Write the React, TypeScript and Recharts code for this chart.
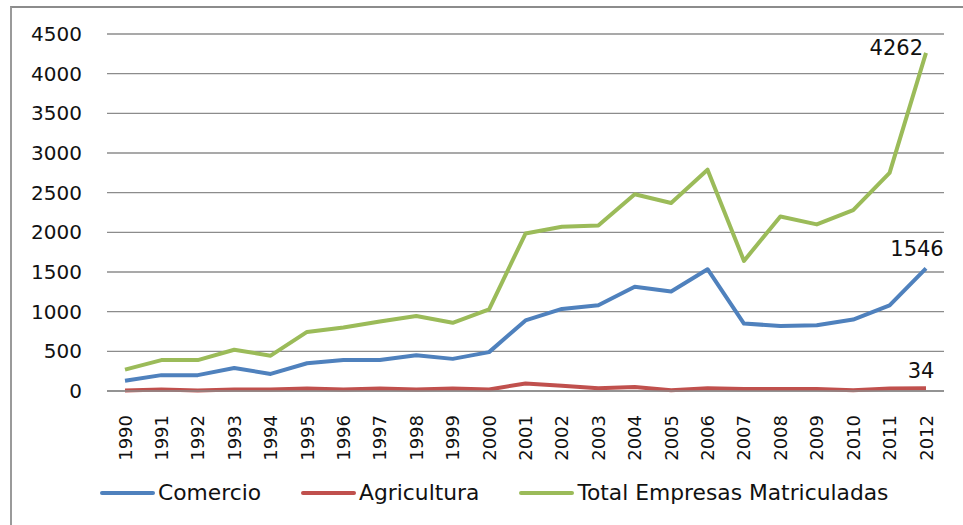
import React from 'react';
import { LineChart, Line, XAxis, YAxis, CartesianGrid, LabelList } from 'recharts';

const years = ['1990','1991','1992','1993','1994','1995','1996','1997','1998','1999','2000','2001','2002','2003','2004','2005','2006','2007','2008','2009','2010','2011','2012'];
const comercio = [130, 200, 200, 290, 215, 350, 390, 390, 450, 405, 490, 890, 1035, 1080, 1315, 1255, 1535, 850, 820, 830, 900, 1080, 1546];
const agricultura = [5, 20, 5, 20, 20, 30, 20, 30, 20, 30, 20, 95, 65, 35, 50, 10, 35, 25, 25, 25, 8, 30, 34];
const total = [270, 390, 390, 520, 445, 745, 800, 875, 945, 860, 1030, 1985, 2070, 2085, 2480, 2370, 2790, 1640, 2200, 2100, 2280, 2750, 4262];
const yTicks = [0, 500, 1000, 1500, 2000, 2500, 3000, 3500, 4000, 4500];

const seriesNames = ['Comercio', 'Agricultura', 'Total Empresas Matriculadas'];
const seriesColors = ['#4F81BD', '#C0504D', '#9BBB59'];

const data = years.map((y, i) => ({
  year: y,
  comercio: comercio[i],
  agricultura: agricultura[i],
  total: total[i],
}));

const FONT = '"DejaVu Sans", sans-serif';
const lastIndex = years.length - 1;

const XTick = (props: any) => {
  const { x, y, payload } = props;
  return (
    <text
      transform={`translate(${x},${y + 16}) rotate(-90)`}
      textAnchor="end"
      dominantBaseline="central"
      fontFamily={FONT}
      fontSize={18}
      fill="#111"
    >
      {payload.value}
    </text>
  );
};

const makeLastLabel = (dx: number, dy: number, anchor: string) => (props: any) => {
  const { x, y, value, index } = props;
  if (index !== lastIndex) return null;
  return (
    <text x={x + dx} y={y + dy} textAnchor={anchor} fontFamily={FONT} fontSize={21} fill="#111">
      {value}
    </text>
  );
};

export default function App() {
  return (
    <div style={{ position: 'absolute', left: 0, top: 0, width: 963, height: 525, background: '#fff', overflow: 'hidden' }}>
      <div
        style={{
          position: 'absolute',
          left: 10,
          top: 6,
          width: 1000,
          height: 600,
          borderTop: '2px solid #8c8c8c',
          borderLeft: '2px solid #9a9a9a',
        }}
      />
      <div style={{ position: 'absolute', left: 0, top: 0 }}>
        <LineChart width={963} height={525} data={data} margin={{ top: 34, right: 19, left: 0, bottom: 64 }}>
          <CartesianGrid vertical={false} stroke="#8c8c8c" strokeWidth={1.3} />
          <XAxis
            dataKey="year"
            interval={0}
            padding={{ left: 18, right: 18 }}
            tickLine={false}
            axisLine={{ stroke: '#8c8c8c', strokeWidth: 1.3 }}
            tick={<XTick />}
            height={70}
          />
          <YAxis
            domain={[0, 4500]}
            ticks={yTicks}
            width={107}
            axisLine={false}
            tickLine={false}
            tickSize={0}
            tickMargin={25}
            tick={{ fontFamily: FONT, fontSize: 20, fill: '#111' }}
          />
          <Line type="linear" dataKey="comercio" name={seriesNames[0]} stroke={seriesColors[0]} strokeWidth={4} dot={false} isAnimationActive={false} strokeLinejoin="round">
            <LabelList dataKey="comercio" content={makeLastLabel(-9, -12, 'middle')} />
          </Line>
          <Line type="linear" dataKey="agricultura" name={seriesNames[1]} stroke={seriesColors[1]} strokeWidth={4} dot={false} isAnimationActive={false} strokeLinejoin="round">
            <LabelList dataKey="agricultura" content={makeLastLabel(-5, -10, 'middle')} />
          </Line>
          <Line type="linear" dataKey="total" name={seriesNames[2]} stroke={seriesColors[2]} strokeWidth={4} dot={false} isAnimationActive={false} strokeLinejoin="round">
            <LabelList dataKey="total" content={makeLastLabel(-3, 2, 'end')} />
          </Line>
        </LineChart>
      </div>
      <div
        style={{
          position: 'absolute',
          left: 100,
          top: 480,
          height: 26,
          display: 'flex',
          alignItems: 'center',
          gap: 40,
          fontFamily: FONT,
          fontSize: 21.8,
          color: '#111',
          whiteSpace: 'nowrap',
        }}
      >
        {seriesNames.map((n, i) => (
          <div key={n} style={{ display: 'flex', alignItems: 'center' }}>
            <span style={{ display: 'inline-block', width: 55, height: 4, borderRadius: 2, background: seriesColors[i], marginRight: 3 }} />
            <span style={{ lineHeight: '26px' }}>{n}</span>
          </div>
        ))}
      </div>
    </div>
  );
}
